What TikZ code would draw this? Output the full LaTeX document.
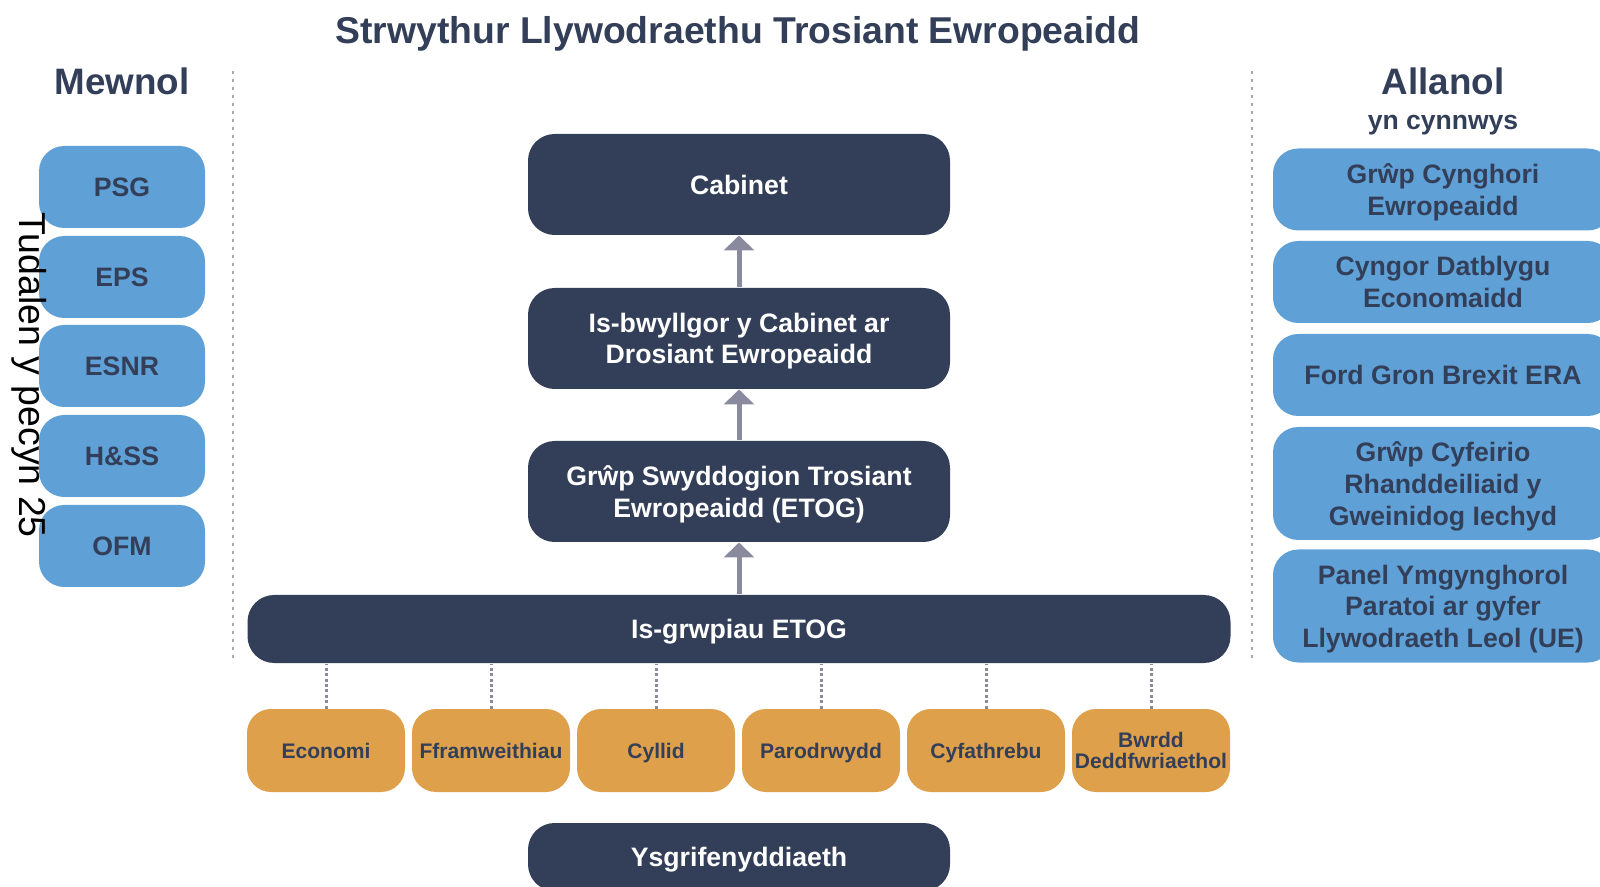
\documentclass[tikz,border=0pt]{standalone}
\usepackage{fontspec}
\setmainfont{Liberation Sans}
\usetikzlibrary{arrows.meta}

\definecolor{navy}{HTML}{333F58}
\definecolor{skyblue}{HTML}{5FA0D7}
\definecolor{amber}{HTML}{DFA04B}
\definecolor{arrowgrey}{HTML}{8A8A9E}

\tikzset{every picture/.style={line width=0.75pt}}
\tikzset{
  darkbox/.style={fill=navy, text=white, rounded corners=20pt, inner sep=0pt, align=center, text depth=0pt,
    minimum width=316.5pt, minimum height=75.75pt, font=\fontsize{20}{23.7}\selectfont\bfseries},
  innerbox/.style={fill=skyblue, text=navy, rounded corners=19pt, inner sep=0pt, align=center, text depth=0pt,
    minimum width=124.5pt, minimum height=61.5pt, font=\fontsize{20}{23.7}\selectfont\bfseries},
  outerbox/.style={fill=skyblue, text=navy, rounded corners=19pt, inner sep=0pt, align=center, text depth=0pt,
    minimum width=255pt, minimum height=61.5pt, font=\fontsize{20}{23.7}\selectfont\bfseries},
  subbox/.style={fill=amber, text=navy, rounded corners=18pt, inner sep=0pt, align=center, text depth=0pt,
    minimum width=118.5pt, minimum height=62.25pt, font=\fontsize{15.8}{16}\selectfont\bfseries},
  heading/.style={text=navy, anchor=base, font=\fontsize{28}{30}\selectfont\bfseries},
  uparrow/.style={draw=arrowgrey, line width=3.75pt, -{Triangle[width=22.5pt,length=11.25pt]}},
  dotline/.style={draw=arrowgrey, line width=2.25pt, dash pattern=on 2.25pt off 1.8pt},
  divider/.style={draw=arrowgrey!75, line width=1.9pt, dash pattern=on 1.9pt off 4.1pt},
}

\begin{document}
\begin{tikzpicture}[x=0.75pt,y=0.75pt,yscale=-1,xscale=1]
\useasboundingbox (0,0) rectangle (1600,887);
\clip (0,0) rectangle (1600,887);

% headings
\node [heading] (title) at (738,44) {Strwythur Llywodraethu Trosiant Ewropeaidd};
\node [heading, font=\fontsize{27.6}{30}\selectfont\bfseries] (mewnol) at (122,95) {Mewnol};
\node [heading, font=\fontsize{27.6}{30}\selectfont\bfseries] (allanol) at (1443,95) {Allanol};
\node [heading, font=\fontsize{19.9}{22}\selectfont\bfseries] (cynnwys) at (1443,130) {yn cynnwys};

% dividers
\draw [divider] (233,71) -- (233,663);
\draw [divider] (1252,71) -- (1252,663);

% internal
\node [innerbox] (psg) at (122,187) {PSG};
\node [innerbox] (eps) at (122,277) {EPS};
\node [innerbox] (esnr) at (122,366) {ESNR};
\node [innerbox] (hss) at (122,456) {H\&SS};
\node [innerbox] (ofm) at (122,546) {OFM};

\node [rotate=-90, font=\fontsize{28.1}{30}\selectfont] (page) at (29,375) {Tudalen y pecyn 25};

% external
\node [outerbox] (cynghori) at (1443,189.5) {Grŵp Cynghori\\Ewropeaidd};
\node [outerbox] (cyngor) at (1443,282) {Cyngor Datblygu\\Economaidd};
\node [outerbox] (ford) at (1443,375) {Ford Gron Brexit ERA};
\node [outerbox, minimum height=84.75pt] (cyfeirio) at (1443,483.5) {Grŵp Cyfeirio\\Rhanddeiliaid y\\Gweinidog Iechyd};
\node [outerbox, minimum height=84.75pt] (panel) at (1443,606) {Panel Ymgynghorol\\Paratoi ar gyfer\\Llywodraeth Leol (UE)};

% governance chain
\node [darkbox] (cab) at (739,184.5) {Cabinet};
\node [darkbox] (isb) at (739,338.5) {Is-bwyllgor y Cabinet ar\\Drosiant Ewropeaidd};
\node [darkbox] (etog) at (739,491.5) {Grŵp Swyddogion Trosiant\\Ewropeaidd (ETOG)};
\node [darkbox, minimum width=737.25pt, minimum height=51pt] (sub) at (739,629) {Is-grwpiau ETOG};
\node [darkbox, minimum height=51pt] (ysg) at (739,857) {Ysgrifenyddiaeth};

\draw [uparrow] (isb) -- (cab);
\draw [uparrow] (etog) -- (isb);
\draw [uparrow] (sub) -- (etog);

% sub-groups
\foreach \name/\xc/\txt in {econ/326/Economi, ffram/491/Fframweithiau, cyllid/656/Cyllid,
    parod/821/Parodrwydd, cyfath/986/Cyfathrebu, bwrdd/1151/{Bwrdd\\Deddfwriaethol}} {
  \node [subbox] (\name) at (\xc,750.5) {\txt};
  \draw [dotline] (\name.north) -- (\name.north |- sub.south);
}

\end{tikzpicture}
\end{document}
